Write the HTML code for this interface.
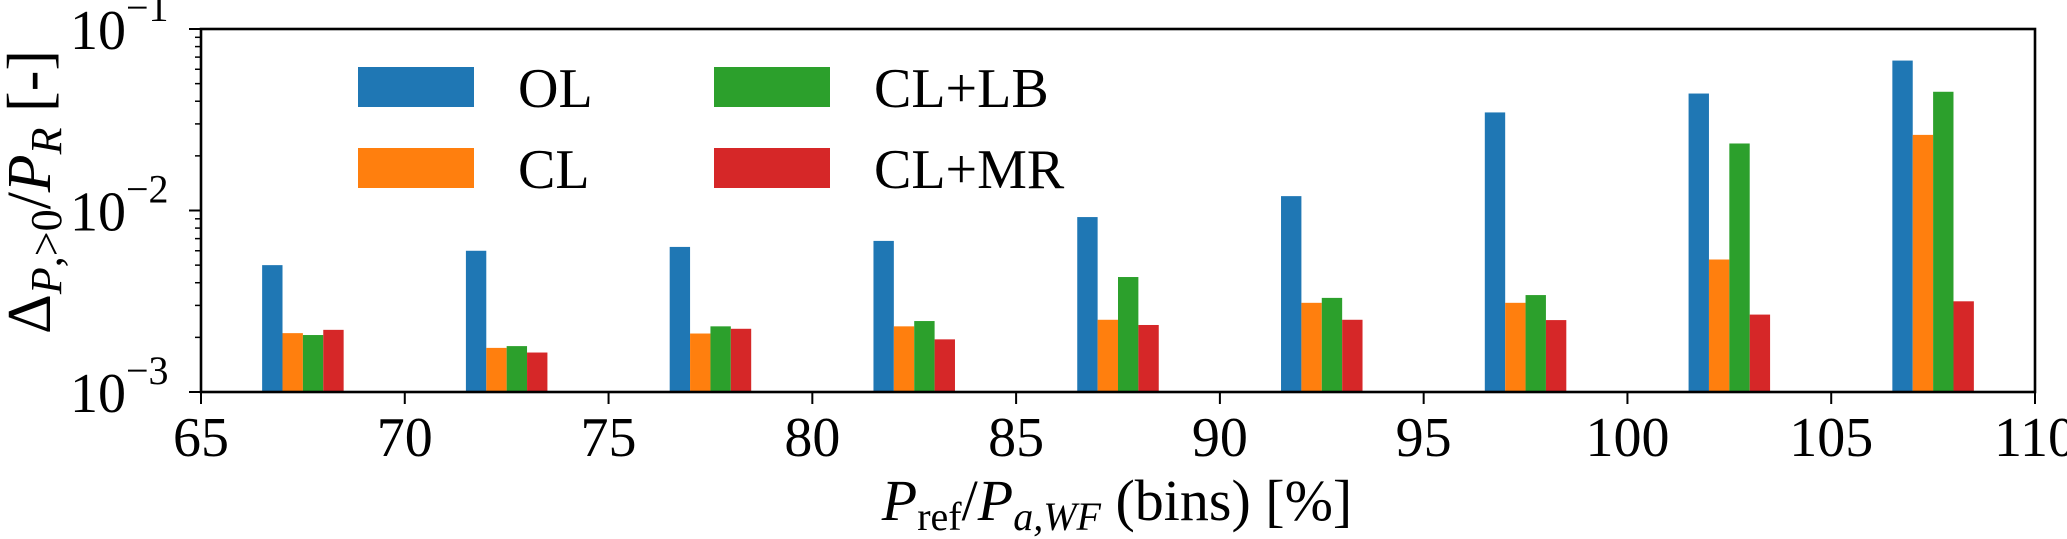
<!DOCTYPE html>
<html><head><meta charset="utf-8"><style>
html,body{margin:0;padding:0;background:#fff;}
svg{display:block;font-family:"Liberation Serif","DejaVu Serif",serif;}
</style></head><body>
<svg id="chart" width="2067" height="539" viewBox="0 0 2067 539" xmlns="http://www.w3.org/2000/svg"></svg>
<script>
const groups = [67, 72, 77, 82, 87, 92, 97, 102, 107];
const seriesNames = ["OL", "CL", "CL+LB", "CL+MR"];
const olValues   = [0.0050, 0.0060, 0.0063, 0.0068, 0.0092, 0.0120, 0.0347, 0.0441, 0.0670];
const clValues   = [0.00211, 0.00175, 0.00210, 0.00230, 0.00250, 0.00310, 0.00310, 0.00537, 0.0261];
const clLbValues = [0.00206, 0.00179, 0.00230, 0.00246, 0.00430, 0.00330, 0.00342, 0.0234, 0.0451];
const clMrValues = [0.00220, 0.00165, 0.00223, 0.00195, 0.00234, 0.00250, 0.00249, 0.00267, 0.00316];
const xTicks = [65, 70, 75, 80, 85, 90, 95, 100, 105, 110];
const yExps = [-3, -2, -1];

const svg = document.getElementById('chart');
const NS = 'http://www.w3.org/2000/svg';
const X0 = 201, X1 = 2035, Y0 = 392, Y1 = 29;
const xMin = 65, xMax = 110, lMin = -3, lMax = -1;
const xs = v => X0 + (v - xMin) / (xMax - xMin) * (X1 - X0);
const ys = v => Y0 - (Math.log10(v) - lMin) / (lMax - lMin) * (Y0 - Y1);
const colors = ["#1f77b4", "#ff7f0e", "#2ca02c", "#d62728"];
const series = [olValues, clValues, clLbValues, clMrValues];
const barW = 0.5;

function mk(tag, attrs, parent) {
  const e = document.createElementNS(NS, tag);
  for (const k in attrs) e.setAttribute(k, attrs[k]);
  (parent || svg).appendChild(e);
  return e;
}

series.forEach((vals, si) => {
  const g = mk('g', {});
  
  
  vals.forEach((v, i) => {
    const left = groups[i] - 0.5 + si * barW;
    const xa = xs(left), xb = xs(left + barW);
    const r = mk('rect', {x: xa, y: ys(v), width: xb - xa, height: Y0 - ys(v), fill: colors[si]}, g);
    
    
  });
});

const frame = mk('rect', {x: X0, y: Y1, width: X1 - X0, height: Y0 - Y1, fill: 'none', stroke: '#000', 'stroke-width': 2.6});



xTicks.forEach(t => {
  const x = xs(t);
  mk('line', {x1: x, y1: Y0, x2: x, y2: Y0 + 12, stroke: '#000', 'stroke-width': 2});
  const tx = mk('text', {x: x, y: 456, 'font-size': 56, 'text-anchor': 'middle'});
  tx.textContent = t;
  
  
});

yExps.forEach(e => {
  const y = ys(Math.pow(10, e));
  mk('line', {x1: X0 - 12, y1: y, x2: X0, y2: y, stroke: '#000', 'stroke-width': 2});
  const tx = mk('text', {x: 70, y: y + 20, 'font-size': 56});
  tx.textContent = '10';
  const sp = mk('tspan', {dy: -28, 'font-size': 40});
  sp.textContent = '\u2212' + Math.abs(e);
  tx.appendChild(sp);
  
  
  if (e < lMax) {
    for (let m = 2; m <= 9; m++) {
      const ym = ys(m * Math.pow(10, e));
      mk('line', {x1: X0 - 6, y1: ym, x2: X0, y2: ym, stroke: '#000', 'stroke-width': 1.5});
    }
  }
});

const legend = mk('g', {});


const legPos = [[358, 67], [358, 148], [714, 67], [714, 148]];
seriesNames.forEach((n, i) => {
  const [lx, ly] = legPos[i];
  const r = mk('rect', {x: lx, y: ly, width: 116, height: 40, fill: colors[i]}, legend);
  
  
  const t = mk('text', {x: lx + 160, y: ly + 40, 'font-size': 56}, legend);
  t.textContent = n;
  
  
});
</script>
<svg style="position:absolute;left:0;top:0" width="2067" height="539">
  <text x="1117" y="520" font-size="58" text-anchor="middle" font-family="Liberation Serif, serif"><tspan font-style="italic">P</tspan><tspan font-size="40" dy="10">ref</tspan><tspan dy="-10">/</tspan><tspan font-style="italic">P</tspan><tspan font-size="40" font-style="italic" dy="10">a,WF</tspan><tspan dy="-10"> (bins) [%]</tspan></text>
  <text transform="translate(50,192) rotate(-90)" font-size="62" text-anchor="middle" font-family="Liberation Serif, serif">Δ<tspan font-size="44" font-style="italic" dy="11">P</tspan><tspan font-size="44">,&gt;0</tspan><tspan dy="-11">/</tspan><tspan font-style="italic">P</tspan><tspan font-size="44" font-style="italic" dy="11">R</tspan><tspan dy="-11"> [-]</tspan></text>
</svg>
</body></html>
